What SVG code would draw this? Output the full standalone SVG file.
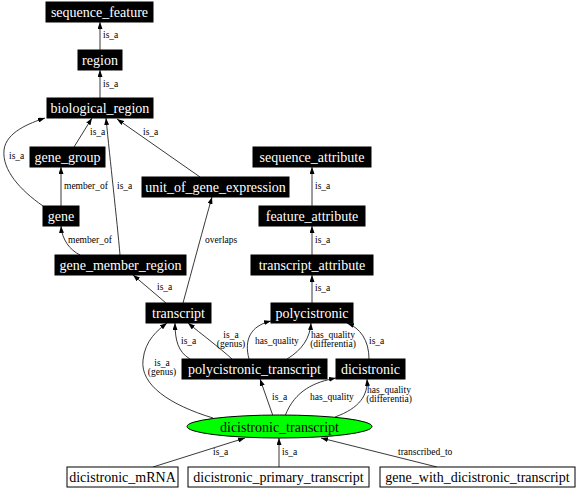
<svg xmlns="http://www.w3.org/2000/svg" width="576" height="489" viewBox="0 0 576 489">
<style>
.bn rect{fill:#000;stroke:#000;stroke-width:1}
.bn text{fill:#fff}
.wn rect{fill:#fff;stroke:#000;stroke-width:1}
.nt{font-family:"Liberation Serif","Times New Roman",serif;font-size:14px;text-anchor:middle}
.e path{fill:none;stroke:#222;stroke-width:0.9;marker-end:url(#ah)}
.el{font-family:"Liberation Serif","Times New Roman",serif;font-size:9.5px;fill:#000}
.c{text-anchor:middle}
</style>
<defs>
<marker id="ah" viewBox="0 0 7 5" refX="7" refY="2.5" markerWidth="7" markerHeight="5" markerUnits="userSpaceOnUse" orient="auto">
<path d="M0,0 L7,2.5 L0,5 z" fill="#000"/>
</marker>
</defs>
<rect width="576" height="489" fill="#fff"/>
<g id="edges" class="e">
<path d="M100,50 L100,22"/>
<path d="M100,98 L100,70"/>
<path d="M74,147 L92,118"/>
<path d="M43,206 C20,190 2,170 4,150 C6,132 30,123 45,118"/>
<path d="M120,255 C117,220 110,160 106,118"/>
<path d="M200,177 L117,119"/>
<path d="M61,206 L61,167"/>
<path d="M80,255 C70,250 62,240 61,226"/>
<path d="M166,303 L133,275"/>
<path d="M183,303 C192,270 204,225 212,197"/>
<path d="M312,206 L312,167"/>
<path d="M312,255 L312,226"/>
<path d="M312,303 L312,275"/>
<path d="M190,359 C178,352 175,340 175,323"/>
<path d="M232,359 C220,348 200,333 188,323"/>
<path d="M249,359 C244,340 250,326 271,321"/>
<path d="M287,359 C302,350 310,338 311,323"/>
<path d="M369,359 C369,340 360,328 347,323"/>
<path d="M213,418 C170,405 140,385 143,360 C145,340 158,330 167,323"/>
<path d="M273,416 L260,379"/>
<path d="M285,416 C295,390 315,382 336,378"/>
<path d="M335,417 C360,408 368,395 367,379"/>
<path d="M153,467 L245,438"/>
<path d="M279,467 L279,438"/>
<path d="M437,467 L321,438"/>
</g>
<g id="edge-labels" class="el">
<text x="103" y="38">is_a</text>
<text x="103" y="87">is_a</text>
<text x="90" y="135">is_a</text>
<text x="9" y="159">is_a</text>
<text x="117" y="189">is_a</text>
<text x="143" y="135">is_a</text>
<text x="64" y="189">member_of</text>
<text x="68" y="243">member_of</text>
<text x="157" y="290">is_a</text>
<text x="205" y="243">overlaps</text>
<text x="315" y="189">is_a</text>
<text x="315" y="243">is_a</text>
<text x="315" y="291">is_a</text>
<text x="181" y="344">is_a</text>
<text class="c" x="231" y="338">is_a</text>
<text class="c" x="231" y="347">(genus)</text>
<text x="255" y="344">has_quality</text>
<text class="c" x="333" y="338">has_quality</text>
<text class="c" x="333" y="347">(differentia)</text>
<text x="369" y="344">is_a</text>
<text class="c" x="162" y="366">is_a</text>
<text class="c" x="162" y="375">(genus)</text>
<text x="272" y="400">is_a</text>
<text x="310" y="400">has_quality</text>
<text class="c" x="389" y="393">has_quality</text>
<text class="c" x="389" y="402">(differentia)</text>
<text x="213" y="455">is_a</text>
<text x="282" y="455">is_a</text>
<text x="398" y="455">transcribed_to</text>
</g>
<g id="sequence_feature" class="bn"><rect x="46" y="2" width="107" height="20"/><text class="nt" x="99.5" y="17">sequence_feature</text></g>
<g id="region" class="bn"><rect x="78" y="50" width="44" height="20"/><text class="nt" x="100" y="65">region</text></g>
<g id="biological_region" class="bn"><rect x="47" y="98" width="106" height="20"/><text class="nt" x="100" y="113">biological_region</text></g>
<g id="gene_group" class="bn"><rect x="30" y="147" width="75" height="20"/><text class="nt" x="67.5" y="162">gene_group</text></g>
<g id="unit_of_gene_expression" class="bn"><rect x="142" y="177" width="147" height="20"/><text class="nt" x="215.5" y="192">unit_of_gene_expression</text></g>
<g id="gene" class="bn"><rect x="43" y="206" width="36" height="20"/><text class="nt" x="61" y="221">gene</text></g>
<g id="gene_member_region" class="bn"><rect x="55" y="255" width="131" height="20"/><text class="nt" x="120.5" y="270">gene_member_region</text></g>
<g id="transcript" class="bn"><rect x="146" y="303" width="65" height="20"/><text class="nt" x="178.5" y="318">transcript</text></g>
<g id="sequence_attribute" class="bn"><rect x="253" y="147" width="118" height="20"/><text class="nt" x="312" y="162">sequence_attribute</text></g>
<g id="feature_attribute" class="bn"><rect x="259" y="206" width="106" height="20"/><text class="nt" x="312" y="221">feature_attribute</text></g>
<g id="transcript_attribute" class="bn"><rect x="251" y="255" width="122" height="20"/><text class="nt" x="312" y="270">transcript_attribute</text></g>
<g id="polycistronic" class="bn"><rect x="271" y="303" width="82" height="20"/><text class="nt" x="312" y="318">polycistronic</text></g>
<g id="polycistronic_transcript" class="bn"><rect x="182" y="359" width="145" height="20"/><text class="nt" x="254.5" y="374">polycistronic_transcript</text></g>
<g id="dicistronic" class="bn"><rect x="336" y="359" width="69" height="20"/><text class="nt" x="370.5" y="374">dicistronic</text></g>
<g id="dicistronic_transcript"><ellipse cx="279.5" cy="426.5" rx="92.5" ry="11.5" fill="#00ff00" stroke="#000" stroke-width="1"/><text class="nt" x="279.5" y="431.5" fill="#000">dicistronic_transcript</text></g>
<g id="dicistronic_mRNA" class="wn"><rect x="67" y="467" width="111" height="20"/><text class="nt" x="122.5" y="482">dicistronic_mRNA</text></g>
<g id="dicistronic_primary_transcript" class="wn"><rect x="188" y="467" width="181" height="20"/><text class="nt" x="278.5" y="482">dicistronic_primary_transcript</text></g>
<g id="gene_with_dicistronic_transcript" class="wn"><rect x="380" y="467" width="195" height="20"/><text class="nt" x="477.5" y="482">gene_with_dicistronic_transcript</text></g>
</svg>
